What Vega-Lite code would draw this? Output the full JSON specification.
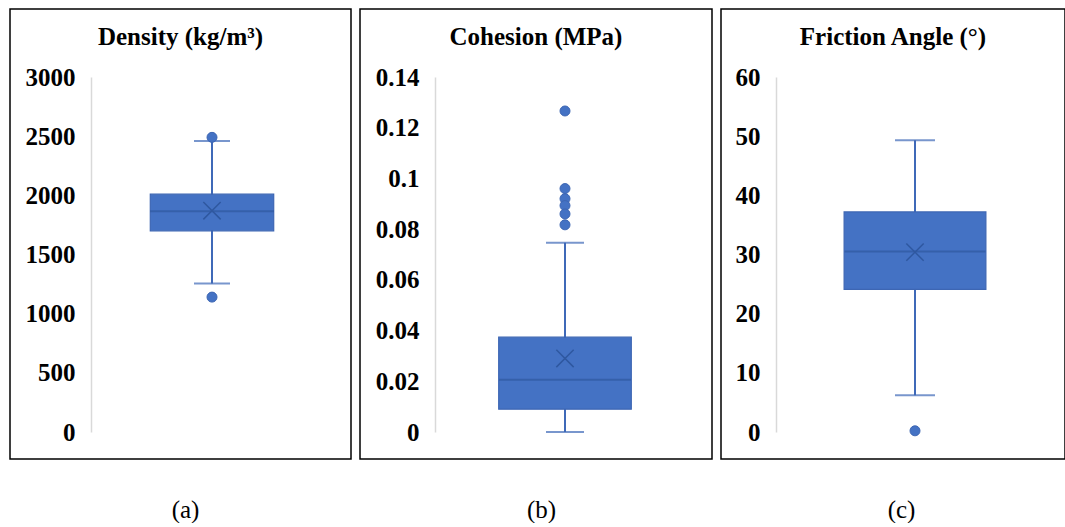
{
  "$schema": "https://vega.github.io/schema/vega-lite/v6.json",
  "padding": {"left": 9, "top": 8, "right": 0, "bottom": 0},
  "background": "white",
  "spacing": 7,
  "config": {
    "view": {"stroke": "black", "strokeWidth": 1.5},
    "title": {"font": "Liberation Serif", "fontSize": 25, "fontWeight": "bold", "color": "black", "anchor": "middle", "frame": "group", "offset": -41, "baseline": "alphabetic"},
    "axisY": {"labelFont": "Liberation Serif", "labelFontSize": 25, "labelFontWeight": "bold", "labelColor": "black", "ticks": false, "grid": false, "domainColor": "#d9d9d9", "domainWidth": 1.5, "labelPadding": 16, "title": null},
    "axisX": {"domain": false, "ticks": false, "labels": false, "grid": false, "titleFont": "Liberation Serif", "titleFontSize": 25, "titleFontWeight": "normal", "titleColor": "black", "titleBaseline": "alphabetic", "titleY": 58, "titleAlign": "center"}
  },
  "hconcat": [
    {
      "width": 341, "height": 450,
      "title": "Density (kg/m³)",
      "data": {"values": [{"p": "Density", "lower": 1255, "q1": 1700, "median": 1865, "q3": 2010, "upper": 2460, "mean": 1870}]},
      "encoding": {
        "x": {"field": "p", "type": "nominal", "scale": {"range": [81, 323], "paddingInner": 0, "paddingOuter": 0}, "axis": {"title": "(a)", "titleX": 175}}
      },
      "layer": [
        {"mark": {"type": "rule", "color": "#3F69B8", "strokeWidth": 2}, "encoding": {"y": {"field": "lower", "type": "quantitative", "scale": {"domain": [0, 3000], "range": [423, 68], "nice": false, "zero": false}, "axis": {"offset": -81, "format": "d", "values": [0, 500, 1000, 1500, 2000, 2500, 3000]}}, "y2": {"field": "upper"}}},
        {"mark": {"type": "tick", "color": "#3F69B8", "size": 36, "thickness": 2}, "encoding": {"y": {"field": "lower", "type": "quantitative"}}},
        {"mark": {"type": "tick", "color": "#3F69B8", "size": 36, "thickness": 2}, "encoding": {"y": {"field": "upper", "type": "quantitative"}}},
        {"mark": {"type": "bar", "width": {"band": 0.51}, "fill": "#4472C4", "stroke": "#3D66B3", "strokeWidth": 1.2}, "encoding": {"y": {"field": "q1", "type": "quantitative"}, "y2": {"field": "q3"}}},
        {"mark": {"type": "tick", "color": "#2F58A0", "size": 124, "thickness": 2}, "encoding": {"y": {"field": "median", "type": "quantitative"}}},
        {"mark": {"type": "point", "shape": "M-1,-1L1,1M-1,1L1,-1", "filled": false, "size": 300, "stroke": "#2F58A0", "strokeWidth": 1.5, "opacity": 1}, "encoding": {"y": {"field": "mean", "type": "quantitative"}}},
        {"data": {"values": [{"p": "Density", "v": 2490}, {"p": "Density", "v": 1140}]}, "mark": {"type": "circle", "size": 100, "fill": "#4472C4", "stroke": "#3D66B3", "strokeWidth": 1, "opacity": 1}, "encoding": {"y": {"field": "v", "type": "quantitative"}}}
      ]
    },
    {
      "width": 352, "height": 450,
      "title": "Cohesion (MPa)",
      "data": {"values": [{"p": "Cohesion", "lower": 0, "q1": 0.009, "median": 0.0206, "q3": 0.0374, "upper": 0.0746, "mean": 0.029}]},
      "encoding": {
        "x": {"field": "p", "type": "nominal", "scale": {"range": [75, 335], "paddingInner": 0, "paddingOuter": 0}, "axis": {"title": "(b)", "titleX": 181}}
      },
      "layer": [
        {"mark": {"type": "rule", "color": "#3F69B8", "strokeWidth": 2}, "encoding": {"y": {"field": "lower", "type": "quantitative", "scale": {"domain": [0, 0.14], "range": [423, 68], "nice": false, "zero": false}, "axis": {"offset": -75, "format": "~r", "values": [0, 0.02, 0.04, 0.06, 0.08, 0.1, 0.12, 0.14]}}, "y2": {"field": "upper"}}},
        {"mark": {"type": "tick", "color": "#3F69B8", "size": 38, "thickness": 2}, "encoding": {"y": {"field": "lower", "type": "quantitative"}}},
        {"mark": {"type": "tick", "color": "#3F69B8", "size": 38, "thickness": 2}, "encoding": {"y": {"field": "upper", "type": "quantitative"}}},
        {"mark": {"type": "bar", "width": {"band": 0.51}, "fill": "#4472C4", "stroke": "#3D66B3", "strokeWidth": 1.2}, "encoding": {"y": {"field": "q1", "type": "quantitative"}, "y2": {"field": "q3"}}},
        {"mark": {"type": "tick", "color": "#2F58A0", "size": 132, "thickness": 2}, "encoding": {"y": {"field": "median", "type": "quantitative"}}},
        {"mark": {"type": "point", "shape": "M-1,-1L1,1M-1,1L1,-1", "filled": false, "size": 300, "stroke": "#2F58A0", "strokeWidth": 1.5, "opacity": 1}, "encoding": {"y": {"field": "mean", "type": "quantitative"}}},
        {"data": {"values": [{"p": "Cohesion", "v": 0.1266}, {"p": "Cohesion", "v": 0.096}, {"p": "Cohesion", "v": 0.092}, {"p": "Cohesion", "v": 0.0893}, {"p": "Cohesion", "v": 0.086}, {"p": "Cohesion", "v": 0.0817}]}, "mark": {"type": "circle", "size": 100, "fill": "#4472C4", "stroke": "#3D66B3", "strokeWidth": 1, "opacity": 1}, "encoding": {"y": {"field": "v", "type": "quantitative"}}}
      ]
    },
    {
      "width": 344, "height": 450,
      "title": "Friction Angle (°)",
      "data": {"values": [{"p": "Friction", "lower": 6.2, "q1": 24.1, "median": 30.5, "q3": 37.2, "upper": 49.3, "mean": 30.4}]},
      "encoding": {
        "x": {"field": "p", "type": "nominal", "scale": {"range": [55, 333], "paddingInner": 0, "paddingOuter": 0}, "axis": {"title": "(c)", "titleX": 180}}
      },
      "layer": [
        {"mark": {"type": "rule", "color": "#3F69B8", "strokeWidth": 2}, "encoding": {"y": {"field": "lower", "type": "quantitative", "scale": {"domain": [0, 60], "range": [423, 68], "nice": false, "zero": false}, "axis": {"offset": -55, "format": "d", "values": [0, 10, 20, 30, 40, 50, 60]}}, "y2": {"field": "upper"}}},
        {"mark": {"type": "tick", "color": "#3F69B8", "size": 40, "thickness": 2}, "encoding": {"y": {"field": "lower", "type": "quantitative"}}},
        {"mark": {"type": "tick", "color": "#3F69B8", "size": 40, "thickness": 2}, "encoding": {"y": {"field": "upper", "type": "quantitative"}}},
        {"mark": {"type": "bar", "width": {"band": 0.51}, "fill": "#4472C4", "stroke": "#3D66B3", "strokeWidth": 1.2}, "encoding": {"y": {"field": "q1", "type": "quantitative"}, "y2": {"field": "q3"}}},
        {"mark": {"type": "tick", "color": "#2F58A0", "size": 141, "thickness": 2}, "encoding": {"y": {"field": "median", "type": "quantitative"}}},
        {"mark": {"type": "point", "shape": "M-1,-1L1,1M-1,1L1,-1", "filled": false, "size": 300, "stroke": "#2F58A0", "strokeWidth": 1.5, "opacity": 1}, "encoding": {"y": {"field": "mean", "type": "quantitative"}}},
        {"data": {"values": [{"p": "Friction", "v": 0.2}]}, "mark": {"type": "circle", "size": 100, "fill": "#4472C4", "stroke": "#3D66B3", "strokeWidth": 1, "opacity": 1}, "encoding": {"y": {"field": "v", "type": "quantitative"}}}
      ]
    }
  ]
}
